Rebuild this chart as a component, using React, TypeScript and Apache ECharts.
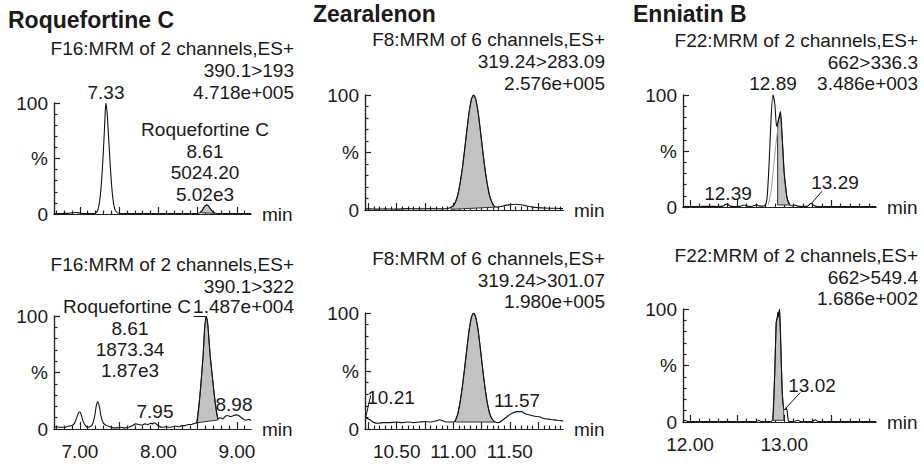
import React, { useEffect, useRef } from "react";
import * as echarts from "echarts";

const FONT = '"Liberation Sans", Arial, sans-serif';
const INK = "#1a1a1a";

// ---------- axis ticks / labels ----------
const leftMajor = [7.0, 7.5, 8.0, 8.5, 9.0];
const leftMinor = [6.7, 6.8, 6.9, 7.1, 7.2, 7.3, 7.4, 7.6, 7.7, 7.8, 7.9, 8.1, 8.2, 8.3, 8.4, 8.6, 8.7, 8.8, 8.9, 9.1];
const leftLabels = [7.0, 8.0, 9.0];
const midMajor = [10.25, 10.5, 10.75, 11.0, 11.25, 11.5, 11.75];
const midMinor = [10.3, 10.35, 10.4, 10.45, 10.55, 10.6, 10.65, 10.7, 10.8, 10.85, 10.9, 10.95, 11.05, 11.1, 11.15, 11.2, 11.3, 11.35, 11.4, 11.45, 11.55, 11.6, 11.65, 11.7, 11.8, 11.85, 11.9, 11.95];
const midLabels = [10.5, 11.0, 11.5];
const rightMajor = [12.0, 12.5, 13.0, 13.5];
const rightMinor = [12.1, 12.2, 12.3, 12.4, 12.6, 12.7, 12.8, 12.9, 13.1, 13.2, 13.3, 13.4, 13.6, 13.7, 13.8, 13.9];
const rightLabels = [12.0, 13.0];
const yMinor = [10, 20, 30, 40, 60, 70, 80, 90];
const leftRange = [6.67, 9.18];
const midRange = [10.22, 11.97];
const rightRange = [11.925, 13.975];

// ---------- traces (x = min, y = % of base peak) ----------
const roq193: number[][] = [[6.67,0.3],[6.75,0.4],[6.85,0.6],[6.9,1.0],[6.95,1.3],[7.0,0.9],[7.05,0.4],[7.1,0.3],[7.15,0.3],[7.19,0.5],[7.21,1.5],[7.23,4],[7.25,11],[7.27,24],[7.29,45],[7.31,72],[7.32,88],[7.33,100],[7.34,96],[7.35,88],[7.37,64],[7.39,40],[7.41,21],[7.43,9],[7.45,3.5],[7.48,1],[7.52,0.4],[7.6,0.4],[7.7,0.3],[7.8,0.4],[7.9,0.3],[8.0,0.4],[8.1,0.3],[8.2,0.4],[8.3,0.3],[8.4,0.4],[8.5,0.5],[8.53,1.2],[8.56,3.5],[8.59,7],[8.62,8.3],[8.65,6],[8.68,3],[8.71,1.2],[8.75,0.5],[8.85,0.3],[9.0,0.3],[9.18,0.3]];
const roq193Shade: number[][] = [[8.53,1.2],[8.56,3.5],[8.59,7],[8.62,8.3],[8.65,6],[8.68,3],[8.71,1.2],[8.71,0.6]];

const roq322: number[][] = [[6.67,1.5],[6.7,2],[6.75,1.5],[6.8,1.5],[6.85,2.5],[6.9,3],[6.93,5],[6.96,10],[6.98,14],[7.0,15],[7.02,12],[7.04,7],[7.07,3],[7.1,1.5],[7.13,2],[7.16,4],[7.19,12],[7.21,21],[7.23,24],[7.25,19],[7.27,11],[7.3,5],[7.34,3],[7.38,2],[7.42,1],[7.47,1],[7.52,1.5],[7.57,1],[7.62,1.5],[7.67,3],[7.71,4.5],[7.75,4],[7.79,3.5],[7.83,4.5],[7.87,4],[7.9,5],[7.93,4.5],[7.95,5.5],[7.98,4],[8.01,2.5],[8.05,1.5],[8.1,2],[8.14,1.5],[8.18,2],[8.22,2.5],[8.26,2],[8.3,3],[8.34,3],[8.38,4],[8.42,4],[8.46,5],[8.49,5.5],[8.53,30],[8.57,65],[8.59,90],[8.61,100],[8.63,92],[8.66,65],[8.7,38],[8.73,20],[8.76,9],[8.79,10],[8.82,9],[8.85,11],[8.88,12],[8.92,11],[8.96,12],[9.0,12.5],[9.03,11.5],[9.06,10],[9.09,8.5],[9.12,8],[9.15,8.5],[9.18,7.5]];
const roq322Shade: number[][] = [[8.49,5.5],[8.53,30],[8.57,65],[8.59,90],[8.61,100],[8.63,92],[8.66,65],[8.7,38],[8.73,20],[8.76,9],[8.76,8]];

const zea283: number[][] = [[10.22,1],[10.27,1],[10.32,0.8],[10.4,1],[10.5,0.8],[10.6,1.2],[10.7,1],[10.8,1.2],[10.9,1],[10.96,1.5],[10.98,2.5],[11.0,3.5],[11.02,7],[11.04,13],[11.06,23],[11.08,36],[11.1,52],[11.12,69],[11.14,85],[11.16,96],[11.18,100],[11.2,96],[11.22,85],[11.24,69],[11.26,52],[11.28,36],[11.3,23],[11.32,13],[11.34,7],[11.36,3.5],[11.38,2.5],[11.42,3],[11.46,4],[11.5,4.5],[11.55,5],[11.6,4.5],[11.65,3.5],[11.7,2.5],[11.75,2],[11.8,1.8],[11.85,1.5],[11.9,1.5],[11.97,1.2]];
const zea283Shade: number[][] = [[10.98,2.5],[11.0,3.5],[11.02,7],[11.04,13],[11.06,23],[11.08,36],[11.1,52],[11.12,69],[11.14,85],[11.16,96],[11.18,100],[11.2,96],[11.22,85],[11.24,69],[11.26,52],[11.28,36],[11.3,23],[11.32,13],[11.34,7],[11.36,3.5],[11.37,2.5],[10.98,0.6]];

const zea301: number[][] = [[10.22,10],[10.24,9],[10.27,7.5],[10.3,5.5],[10.34,5],[10.38,5.5],[10.43,5.5],[10.5,6],[10.55,5.5],[10.6,6],[10.65,5.5],[10.7,6],[10.75,6.5],[10.8,6],[10.85,7],[10.88,8],[10.91,7],[10.95,6],[11.0,6],[11.02,7.5],[11.04,13],[11.06,23],[11.08,36],[11.1,52],[11.12,69],[11.14,85],[11.16,96],[11.18,100],[11.2,96],[11.22,85],[11.24,69],[11.26,52],[11.28,36],[11.3,23],[11.32,14],[11.34,9],[11.37,6],[11.4,5.5],[11.44,8],[11.48,11],[11.52,13.5],[11.56,15],[11.6,15],[11.64,13],[11.68,12],[11.72,11],[11.76,10.5],[11.8,9],[11.84,8.5],[11.88,8],[11.92,7.5],[11.97,7]];
const zea301Shade: number[][] = [[11.02,7.5],[11.04,13],[11.06,23],[11.08,36],[11.1,52],[11.12,69],[11.14,85],[11.16,96],[11.18,100],[11.2,96],[11.22,85],[11.24,69],[11.26,52],[11.28,36],[11.3,23],[11.32,14],[11.34,9],[11.37,6],[11.02,6]];

const enn336: number[][] = [[11.925,0.5],[12.0,0.5],[12.1,0.5],[12.2,0.6],[12.3,0.5],[12.35,0.8],[12.38,2.5],[12.4,2.8],[12.42,1],[12.47,0.5],[12.53,0.6],[12.56,1.5],[12.58,1.8],[12.6,0.8],[12.65,0.5],[12.69,1.5],[12.71,2],[12.73,1],[12.77,0.8],[12.8,1.5],[12.82,10],[12.84,40],[12.86,78],[12.88,100],[12.9,92],[12.92,72],[12.94,78],[12.96,85],[12.98,60],[13.0,30],[13.03,8],[13.06,2],[13.09,1],[13.11,1.8],[13.14,0.8],[13.2,0.5],[13.25,0.8],[13.27,2.5],[13.29,3.3],[13.31,1.5],[13.35,0.5],[13.45,0.5],[13.6,0.5],[13.8,0.5],[13.975,0.5]];
const enn336Shade: number[][] = [[12.93,1.8],[12.93,74],[12.94,78],[12.96,85],[12.98,60],[13.0,30],[13.03,8],[13.06,1.8]];
const enn336Envelope: number[][] = [[12.83,1.8],[12.86,14],[12.89,38],[12.92,62],[12.945,76]];

const enn549: number[][] = [[11.925,0.5],[11.95,1.5],[11.97,0.5],[12.05,0.3],[12.15,0.3],[12.3,0.3],[12.45,0.3],[12.6,0.3],[12.7,0.5],[12.73,1.5],[12.75,0.5],[12.82,0.3],[12.86,0.5],[12.88,3],[12.9,45],[12.915,88],[12.925,92],[12.935,97],[12.94,93],[12.95,100],[12.96,80],[12.97,50],[12.98,25],[12.995,11],[13.01,11],[13.02,12.5],[13.03,10],[13.045,1],[13.06,0.3],[13.1,0.5],[13.15,1.5],[13.17,0.5],[13.3,0.5],[13.33,2],[13.36,0.5],[13.5,0.3],[13.7,0.3],[13.975,0.3]];
const enn549Shade: number[][] = [[12.88,3],[12.9,45],[12.915,88],[12.925,92],[12.935,97],[12.94,93],[12.95,100],[12.96,80],[12.97,50],[12.98,25],[12.995,11],[12.995,1.5],[12.88,1.5]];

// leader lines [from, to]
const leaders: { panel: number; from: number[]; to: number[] }[] = [
  { panel: 1, from: [8.45, 100], to: [8.6, 100] },
  { panel: 3, from: [10.27, 29], to: [10.225, 9.5] },
  { panel: 4, from: [13.4, 14], to: [13.29, 3.3] },
  { panel: 5, from: [13.17, 26], to: [13.02, 12.5] },
];

// ---------- layout ----------
const grids = [
  { left: 54, top: 103, width: 197, height: 111 },
  { left: 54, top: 316, width: 197, height: 113 },
  { left: 365, top: 95, width: 198, height: 115 },
  { left: 365, top: 313, width: 198, height: 116 },
  { left: 683, top: 95, width: 193, height: 112 },
  { left: 683, top: 309, width: 193, height: 113 },
];
const panelX = [
  { range: leftRange, major: leftMajor, minor: leftMinor, labels: leftLabels },
  { range: leftRange, major: leftMajor, minor: leftMinor, labels: leftLabels },
  { range: midRange, major: midMajor, minor: midMinor, labels: midLabels },
  { range: midRange, major: midMajor, minor: midMinor, labels: midLabels },
  { range: rightRange, major: rightMajor, minor: rightMinor, labels: rightLabels },
  { range: rightRange, major: rightMajor, minor: rightMinor, labels: rightLabels },
];
const traces = [roq193, roq322, zea283, zea301, enn336, enn549];
const shades = [roq193Shade, roq322Shade, zea283Shade, zea301Shade, enn336Shade, enn549Shade];

type Txt = [string, number, number, string?, number?, string?];
const texts: Txt[] = [
  ["Roquefortine C", 8, 20, "left", 23, "bold"],
  ["F16:MRM of 2 channels,ES+", 294, 48, "right"],
  ["390.1>193", 294, 70, "right"],
  ["4.718e+005", 294, 92, "right"],
  ["7.33", 106, 92, "center"],
  ["Roquefortine C", 205, 129, "center"],
  ["8.61", 205, 151, "center"],
  ["5024.20", 205, 172, "center"],
  ["5.02e3", 205, 194, "center"],
  ["F16:MRM of 2 channels,ES+", 294, 264, "right"],
  ["390.1>322", 294, 286, "right"],
  ["1.487e+004", 294, 306, "right"],
  ["Roquefortine C", 127, 306, "center"],
  ["8.61", 130, 328, "center"],
  ["1873.34", 130, 349, "center"],
  ["1.87e3", 130, 370, "center"],
  ["7.95", 155, 411, "center"],
  ["8.98", 234, 404, "center"],
  ["Zearalenon", 313, 14, "left", 23, "bold"],
  ["F8:MRM of 6 channels,ES+", 605, 39, "right"],
  ["319.24>283.09", 605, 61, "right"],
  ["2.576e+005", 605, 83, "right"],
  ["F8:MRM of 6 channels,ES+", 605, 258, "right"],
  ["319.24>301.07", 605, 280, "right"],
  ["1.980e+005", 605, 301, "right"],
  ["10.21", 391, 397, "center"],
  ["11.57", 517, 400, "center"],
  ["Enniatin B", 633, 14, "left", 23, "bold"],
  ["F22:MRM of 2 channels,ES+", 918, 40, "right"],
  ["662>336.3", 918, 62, "right"],
  ["3.486e+003", 918, 83, "right"],
  ["12.89", 773, 83, "center"],
  ["12.39", 728, 193, "center"],
  ["13.29", 835, 182, "center"],
  ["F22:MRM of 2 channels,ES+", 918, 255, "right"],
  ["662>549.4", 918, 277, "right"],
  ["1.686e+002", 918, 298, "right"],
  ["13.02", 812, 385, "center"],
];

const TICK_COLOR = "#222";

export default function App() {
  const ref = useRef<HTMLDivElement>(null);
  useEffect(() => {
    if (!ref.current) return;
    const chart = echarts.init(ref.current, undefined, { renderer: "svg" });
    const axisLineStyle = { color: TICK_COLOR, width: 1.2 };
    const xAxes: any[] = [];
    const yAxes: any[] = [];
    const series: any[] = [];
    grids.forEach((g, i) => {
      const p = panelX[i];
      const bottom = i % 2 === 1;
      const xBase = { gridIndex: i, type: "value", min: p.range[0], max: p.range[1], position: "bottom", splitLine: { show: false } };
      xAxes.push({
        ...xBase,
        name: "min", nameLocation: "end", nameGap: 11,
        nameTextStyle: { fontSize: 19, fontFamily: FONT, color: INK, align: "left", verticalAlign: "middle" },
        axisLine: { show: true, onZero: false, lineStyle: axisLineStyle },
        axisTick: { show: true, inside: true, customValues: p.major, length: 7, lineStyle: axisLineStyle },
        axisLabel: { show: bottom, customValues: p.labels, formatter: (v: number) => v.toFixed(2), margin: 13, fontSize: 19, fontFamily: FONT, color: INK },
      });
      xAxes.push({
        ...xBase,
        axisLine: { show: true, onZero: false, lineStyle: axisLineStyle },
        axisTick: { show: true, inside: true, customValues: p.minor, length: 3.5, lineStyle: axisLineStyle },
        axisLabel: { show: false },
      });
      const yBase = { gridIndex: i, type: "value", min: 0, max: 100, position: "left", splitLine: { show: false } };
      yAxes.push({
        ...yBase, interval: 50,
        axisLine: { show: true, onZero: false, lineStyle: axisLineStyle },
        axisTick: { show: true, inside: true, length: 6, lineStyle: axisLineStyle },
        axisLabel: { formatter: (v: number) => (v === 50 ? "%" : String(v)), margin: 6, fontSize: 19, fontFamily: FONT, color: INK },
      });
      yAxes.push({
        ...yBase,
        axisLine: { show: true, onZero: false, lineStyle: axisLineStyle },
        axisTick: { show: true, inside: true, customValues: yMinor, length: 3.5, lineStyle: axisLineStyle },
        axisLabel: { show: false },
      });

      const shade = shades[i];
      series.push({
        type: "custom", xAxisIndex: i * 2, yAxisIndex: i * 2, silent: true, z: 1,
        data: [shade[0]],
        encode: { x: 0, y: 1 },
        renderItem: (_params: any, api: any) => ({
          type: "polygon",
          shape: { points: shade.map((pt) => api.coord(pt)) },
          style: { fill: "#c2c2c2", stroke: "#333", lineWidth: 1 },
        }),
      });
      const ml = leaders.filter((l) => l.panel === i);
      series.push({
        type: "line", xAxisIndex: i * 2, yAxisIndex: i * 2, data: traces[i], z: 3,
        showSymbol: false, symbol: "none", silent: true, smooth: 0.25,
        lineStyle: { color: "#111", width: 1.1 },
        markLine: ml.length ? {
          silent: true, symbol: ["none", "none"], label: { show: false },
          lineStyle: { color: "#111", width: 1, type: "solid" },
          data: ml.map((l) => [{ coord: l.from }, { coord: l.to }]),
        } : undefined,
      });
      if (i === 4) {
        series.push({
          type: "line", xAxisIndex: i * 2, yAxisIndex: i * 2, data: enn336Envelope, z: 2,
          showSymbol: false, symbol: "none", silent: true, smooth: 0.3,
          lineStyle: { color: "#9a9a9a", width: 1 },
        });
      }
    });

    const graphic = texts.map(([text, x, y, align, size, weight]) => ({
      type: "text", x, y, silent: true,
      style: {
        text, fill: INK, fontSize: size || 19, fontFamily: FONT, fontWeight: weight || "normal",
        textAlign: align || "center", textVerticalAlign: "middle", align: align || "center", verticalAlign: "middle",
      },
    }));

    chart.setOption({
      animation: false,
      backgroundColor: "#ffffff",
      grid: grids.map((g) => ({ ...g, containLabel: false, outerBoundsMode: "none" })),
      xAxis: xAxes,
      yAxis: yAxes,
      series,
      graphic,
    });
    return () => chart.dispose();
  }, []);
  return <div ref={ref} style={{ position: "fixed", left: 0, top: 0, width: 924, height: 466, background: "#fff" }} />;
}
